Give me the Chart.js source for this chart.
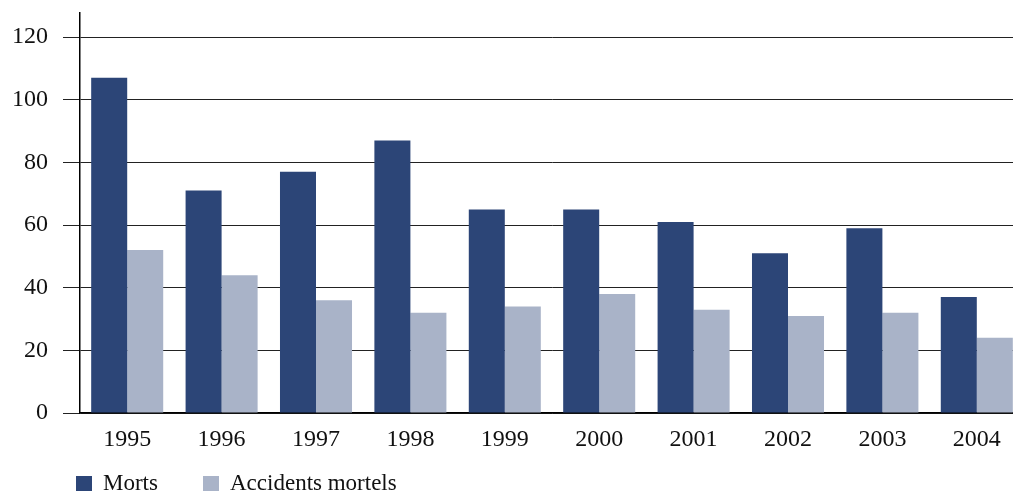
<!DOCTYPE html>
<html lang="fr">
<head>
  <meta charset="UTF-8">
  <title>Morts et accidents mortels 1995-2004</title>
  <script src="https://cdn.jsdelivr.net/npm/chart.js"></script>
  <style>
    html, body { margin: 0; padding: 0; background: #fff; overflow: hidden; }
    #wrap { width: 1030px; height: 494px; }
  </style>
</head>
<body>
  <div id="wrap">
    <canvas id="accChart" width="1030" height="494"></canvas>
  </div>

  <script>
    const years = ['1995', '1996', '1997', '1998', '1999', '2000', '2001', '2002', '2003', '2004'];
    const morts = [107, 71, 77, 87, 65, 65, 61, 51, 59, 37];
    const accidents = [52, 44, 36, 32, 34, 38, 33, 31, 32, 24];
    const yTicks = [0, 20, 40, 60, 80, 100, 120];

    const serif = '"Liberation Serif", "DejaVu Serif", serif';

    // legende en bas a gauche, dessinee a la main pour la placer comme l'original
    const bottomLegend = {
      id: 'bottomLegend',
      afterDraw(chart) {
        const c = chart.ctx;
        let x = 76;
        const y = 476;
        c.save();
        c.font = '23px ' + serif;
        c.textBaseline = 'middle';
        chart.data.datasets.forEach(ds => {
          c.fillStyle = ds.backgroundColor;
          c.fillRect(x, y, 16, 15);
          c.fillStyle = '#111';
          c.fillText(ds.label, x + 27, y + 8);
          x += 127;
        });
        c.restore();
      }
    };

    // pas de marge auto pour les etiquettes, on gere tout avec layout.padding
    function noEdgePadding(scale) {
      scale.paddingTop = 0;
      scale.paddingBottom = 0;
      scale.paddingLeft = 0;
      scale.paddingRight = 0;
    }

    const ctx = document.getElementById('accChart').getContext('2d');
    const accChart = new Chart(ctx, {
      type: 'bar',
      data: {
        labels: years,
        datasets: [
          { label: 'Morts', data: morts, backgroundColor: '#2c4577' },
          { label: 'Accidents mortels', data: accidents, backgroundColor: '#a9b3c8' }
        ]
      },
      options: {
        responsive: false,
        animation: false,
        categoryPercentage: 0.763,
        barPercentage: 1,
        layout: { padding: { left: 14, top: 13, right: 6, bottom: 41 } },
        scales: {
          x: {
            afterFit: function(scale) {
              noEdgePadding(scale);
              scale.height = 40;
            },
            grid: { display: false, drawTicks: false },
            border: { display: true, color: '#000', width: 1.5 },
            ticks: { color: '#111', font: { family: serif, size: 24 }, padding: 12 }
          },
          y: {
            min: 0,
            max: 127.7,
            afterFit: function(scale) {
              noEdgePadding(scale);
              scale.width = 66;
            },
            afterBuildTicks: function(axis) {
              axis.ticks = yTicks.map(v => ({ value: v }));
            },
            grid: { color: '#222', lineWidth: 1, tickLength: 17 },
            border: { display: true, color: '#000', width: 1.5 },
            ticks: { color: '#111', font: { family: serif, size: 24 }, padding: 15 }
          }
        },
        plugins: {
          legend: { display: false },
          tooltip: { enabled: false }
        }
      },
      plugins: [bottomLegend]
    });
  </script>
</body>
</html>
